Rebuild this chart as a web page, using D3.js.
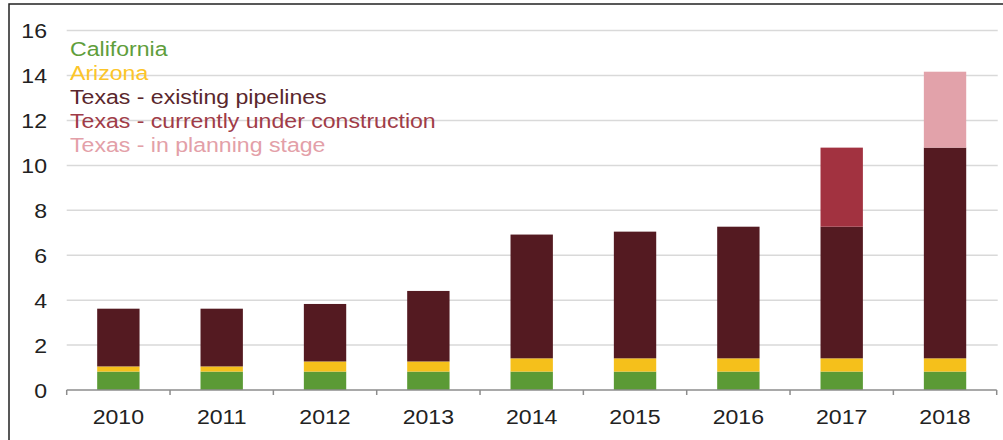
<!DOCTYPE html>
<html>
<head>
<meta charset="utf-8">
<script src="https://cdn.jsdelivr.net/npm/d3@7"></script>
<style>
  body { margin: 0; background: #fff; }
  svg { display: block; font-family: "Liberation Sans", Arial, sans-serif; }
</style>
</head>
<body>
<div id="chart"></div>
<script>
// data
const years = ["2010", "2011", "2012", "2013", "2014", "2015", "2016", "2017", "2018"];
const california = [0.82, 0.82, 0.82, 0.82, 0.82, 0.82, 0.82, 0.82, 0.82];
const arizona = [0.23, 0.23, 0.45, 0.45, 0.59, 0.59, 0.59, 0.59, 0.59];
const texasExisting = [2.57, 2.57, 2.56, 3.14, 5.51, 5.64, 5.86, 5.86, 9.38];
const texasConstruction = [0, 0, 0, 0, 0, 0, 0, 3.52, 0];
const texasPlanning = [0, 0, 0, 0, 0, 0, 0, 0, 3.38];
const seriesNames = ["California", "Arizona", "Texas - existing pipelines",
  "Texas - currently under construction", "Texas - in planning stage"];
const yTicks = [0, 2, 4, 6, 8, 10, 12, 14, 16];

const colors = ["#5b9a35", "#f5c01b", "#541a21", "#a23240", "#e2a2aa"];
const textColors = ["#5f9e3c", "#fcc52a", "#5a272d", "#a03c48", "#e3a0a8"];

const width = 1003, height = 440;
const margin = { top: 30.6, left: 66.7, bottom: 50, right: 6.3 };
const stretch = 1.1; // text in the picture is a bit wider than the font

const rows = years.map((y, i) => ({
  year: y,
  k0: california[i], k1: arizona[i], k2: texasExisting[i],
  k3: texasConstruction[i], k4: texasPlanning[i]
}));
const keys = ["k0", "k1", "k2", "k3", "k4"];
const stacked = d3.stack().keys(keys)(rows);

const svg = d3.select("#chart").append("svg")
  .attr("width", width).attr("height", height);

// frame
svg.append("rect")
  .attr("x", 9).attr("y", 4)
  .attr("width", 1000).attr("height", 460)
  .attr("fill", "none").attr("stroke", "#222").attr("stroke-width", 1.5);

const x = d3.scaleBand()
  .domain(years)
  .range([margin.left, width - margin.right])
  .paddingInner(0.59)
  .paddingOuter(0.295);

const y = d3.scaleLinear()
  .domain([0, 16])
  .range([height - margin.bottom, margin.top]);

// gridlines
svg.append("g")
  .selectAll("line").data(yTicks.filter(d => d > 0)).enter().append("line")
  .attr("x1", margin.left).attr("x2", width - margin.right + 1)
  .attr("y1", d => y(d)).attr("y2", d => y(d))
  .attr("stroke", "#d9d9d9").attr("stroke-width", 1.5);

// y labels
svg.append("g")
  .selectAll("text").data(yTicks).enter().append("text")
  .attr("transform", d => `translate(47,${y(d)}) scale(${stretch},1)`)
  .attr("dy", "0.36em")
  .attr("text-anchor", "end")
  .attr("font-size", 21)
  .attr("fill", "#222")
  .text(d => d);

// bars
svg.append("g")
  .selectAll("g").data(stacked).enter().append("g")
  .attr("fill", (d, i) => colors[i])
  .selectAll("rect").data(d => d).enter().append("rect")
  .attr("x", d => x(d.data.year))
  .attr("y", d => y(d[1]))
  .attr("width", x.bandwidth())
  .attr("height", d => y(d[0]) - y(d[1]));

// x axis with ticks between categories
const step = x.step();
const edges = years.map(d => x(d) - step * x.paddingInner() / 2)
  .concat([x(years[years.length - 1]) + x.bandwidth() + step * x.paddingInner() / 2]);
const xAxis = svg.append("g");
xAxis.append("line")
  .attr("x1", edges[0]).attr("x2", edges[edges.length - 1])
  .attr("y1", y(0)).attr("y2", y(0))
  .attr("stroke", "#8c8c8c").attr("stroke-width", 1.5);
xAxis.selectAll("line.tick").data(edges).enter().append("line")
  .attr("class", "tick")
  .attr("x1", d => d).attr("x2", d => d)
  .attr("y1", y(0)).attr("y2", y(0) + 5)
  .attr("stroke", "#8c8c8c").attr("stroke-width", 1.5);
xAxis.selectAll("text").data(years).enter().append("text")
  .attr("transform", d => `translate(${x(d) + x.bandwidth() / 2},424) scale(${stretch},1)`)
  .attr("text-anchor", "middle")
  .attr("font-size", 21)
  .attr("fill", "#222")
  .text(d => d);

// legend
svg.append("g")
  .selectAll("text").data(seriesNames).enter().append("text")
  .attr("transform", (d, i) => `translate(70,${55.5 + i * 24.1}) scale(${stretch},1)`)
  .attr("font-size", 21)
  .attr("fill", (d, i) => textColors[i])
  .text(d => d);
</script>
</body>
</html>
